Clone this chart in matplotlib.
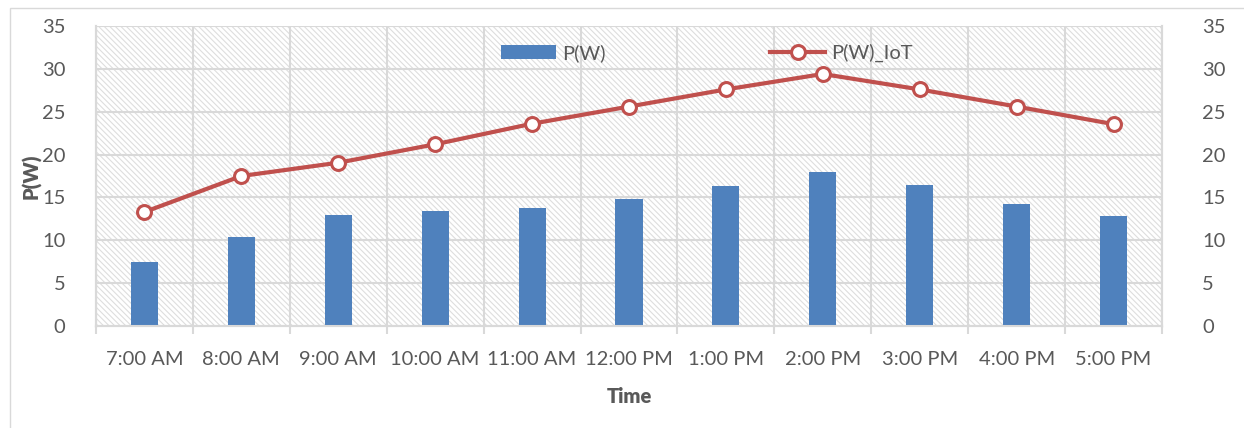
import numpy as np
import matplotlib.pyplot as plt
from matplotlib.patches import Rectangle

plt.rcParams['font.family'] = ['Lato', 'DejaVu Sans']
plt.rcParams['hatch.linewidth'] = 0.8

times = ['7:00 AM', '8:00 AM', '9:00 AM', '10:00 AM', '11:00 AM', '12:00 PM',
         '1:00 PM', '2:00 PM', '3:00 PM', '4:00 PM', '5:00 PM']
p_w = [7.5, 10.4, 13.0, 13.45, 13.8, 14.8, 16.3, 18.0, 16.5, 14.2, 12.8]
p_w_iot = [13.3, 17.5, 19.05, 21.2, 23.6, 25.6, 27.6, 29.4, 27.6, 25.6, 23.55]

txt = '#595959'
grid = '#d9d9d9'
x = np.arange(len(times))

fig = plt.figure(figsize=(12.44, 4.28), dpi=100)
# outer chart border
fig.patches.append(Rectangle((10/1244, -0.01), 1.02, 1 - 8/428 + 0.01,
                             transform=fig.transFigure, fill=False,
                             edgecolor=grid, linewidth=1))
ax = fig.add_axes([96/1244, 1 - 326/428, 1066/1244, 300/428])
ax2 = ax.twinx()

ax.set_xlim(-0.5, len(times) - 0.5)
ax.set_ylim(0, 35)
ax2.set_ylim(0, 35)

# hatched plot area
ax.add_patch(Rectangle((0, 0), 1, 1, transform=ax.transAxes, facecolor='white',
                       edgecolor='#dedede', hatch='\\\\\\\\\\\\', linewidth=0, zorder=0))

for yv in range(5, 36, 5):
    ax.axhline(yv, color=grid, linewidth=1.5, zorder=1)
for xv in np.arange(-0.5, len(times), 1):
    ax.axvline(xv, color=grid, linewidth=1.5, zorder=1)

bars = ax.bar(x, p_w, width=0.28, color='#4f81bd', zorder=3, label='P(W)')
line, = ax2.plot(x, p_w_iot, color='#c0504d', linewidth=3, marker='o',
                 markersize=10, markerfacecolor='white', markeredgewidth=2.2,
                 markeredgecolor='#c0504d', zorder=4, label='P(W)_IoT')

ax.set_xticks(x)
ax.set_xticklabels(times)
ax.set_xticks(np.arange(-0.5, len(times), 1), minor=True)
ax.tick_params(axis='x', which='major', length=0, pad=18, labelsize=14.5, labelcolor=txt)
ax.tick_params(axis='x', which='minor', length=6, color=grid, width=1.5)
ax.set_yticks(range(0, 36, 5))
ax2.set_yticks(range(0, 36, 5))
ax.tick_params(axis='y', length=0, pad=22, labelsize=14.5, labelcolor=txt)
ax2.tick_params(axis='y', length=0, pad=29, labelsize=14.5, labelcolor=txt)

for a in (ax, ax2):
    for s in a.spines.values():
        s.set_color(grid)
        s.set_linewidth(1.5)
    a.spines['top'].set_visible(False)

ax.set_xlabel('Time', fontsize=14.5, fontweight='heavy', color=txt, labelpad=14)
ax.set_ylabel('P(W)', fontsize=14.5, fontweight='heavy', color=txt, labelpad=0)

ax2.set_zorder(ax.get_zorder() + 1)
ax2.patch.set_visible(False)

ax2.legend([bars, line], ['P(W)', 'P(W)_IoT'], ncol=2, loc='upper center',
           bbox_to_anchor=(0.573, 1.0), frameon=False, fontsize=14.5,
           labelcolor=txt, handlelength=2.7, columnspacing=8.2, handletextpad=0.3)

fig.savefig('out.png', dpi=100)
